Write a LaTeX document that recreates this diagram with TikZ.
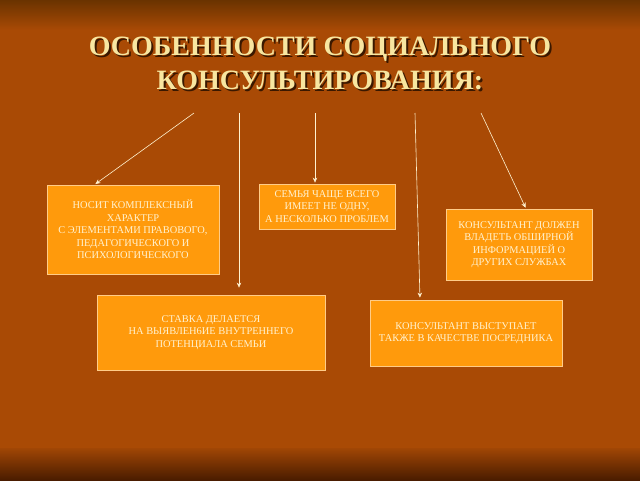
\documentclass[tikz,border=0pt]{standalone}
\usepackage{fontspec}
\setmainfont{Liberation Serif}
\usetikzlibrary{positioning, calc, arrows.meta}
\definecolor{bgmid}{HTML}{A94A05}
\definecolor{bgtop}{HTML}{6A3300}
\definecolor{bgbot}{HTML}{4A1C00}
\definecolor{boxfill}{HTML}{FF9A0C}
\definecolor{boxline}{HTML}{FFCC88}
\definecolor{boxtext}{HTML}{FFF2D0}
\definecolor{titlecol}{HTML}{F8E6A0}
\definecolor{shadowcol}{HTML}{3A1800}

\begin{document}
\begin{tikzpicture}[x=1pt, y=-1pt,
  fact/.style={rectangle, draw=boxline, line width=0.8pt, fill=boxfill, text=boxtext, align=center, inner sep=0pt, font=\fontsize{10.4}{12.5}\selectfont},
  link/.style={-{Stealth[length=5pt,width=4.5pt]}, draw=boxtext, line width=0.6pt},
  heading/.style={font=\fontsize{28}{33.5}\selectfont\bfseries, align=center}]
% background
\useasboundingbox (0,0) rectangle (640,480);
\fill[bgmid] (0,0) rectangle (640,480);
\shade[top color=bgtop, bottom color=bgmid] (0,0) rectangle (640,30);
\shade[top color=bgmid!95!black, bottom color=bgbot] (0,448) rectangle (640,480);
% title
\node (shadow) [heading, text=shadowcol] at (322,65.5) {ОСОБЕННОСТИ СОЦИАЛЬНОГО\\КОНСУЛЬТИРОВАНИЯ:};
\node (title) [heading, text=titlecol] at (320,63.5) {ОСОБЕННОСТИ СОЦИАЛЬНОГО\\КОНСУЛЬТИРОВАНИЯ:};
% boxes
\node (b1) [fact, minimum width=172pt, minimum height=89pt] at (133,229.5) {НОСИТ КОМПЛЕКСНЫЙ\\ХАРАКТЕР\\С ЭЛЕМЕНТАМИ ПРАВОВОГО,\\ПЕДАГОГИЧЕСКОГО И\\ПСИХОЛОГИЧЕСКОГО};
\node (b2) [fact, minimum width=136pt, minimum height=45pt] at (327,206.5) {СЕМЬЯ ЧАЩЕ ВСЕГО\\ИМЕЕТ НЕ ОДНУ,\\А НЕСКОЛЬКО ПРОБЛЕМ};
\node (b3) [fact, minimum width=146pt, minimum height=71pt] at (519,244.5) {КОНСУЛЬТАНТ ДОЛЖЕН\\ВЛАДЕТЬ ОБШИРНОЙ\\ИНФОРМАЦИЕЙ О\\ДРУГИХ СЛУЖБАХ};
\node (b4) [fact, minimum width=228pt, minimum height=75pt] at (211,332.5) {СТАВКА ДЕЛАЕТСЯ\\НА ВЫЯВЛЕН6ИЕ ВНУТРЕННЕГО\\ПОТЕНЦИАЛА СЕМЬИ};
\node (b5) [fact, minimum width=192pt, minimum height=66pt] at (466,333) {КОНСУЛЬТАНТ ВЫСТУПАЕТ\\ТАКЖЕ В КАЧЕСТВЕ ПОСРЕДНИКА};
% arrow starts under the title
\coordinate (s1) at (194,113);
\coordinate (s2) at (239,113);
\coordinate (s3) at (315,113);
\coordinate (s4) at (415,113);
\coordinate (s5) at (481,113);
\draw [link, shorten >=1pt] (s1) -- ([xshift=48pt]b1.north west);
\draw [link, shorten >=7pt] (s2) -- ([xshift=28pt]b4.north);
\draw [link, shorten >=1pt] (s3) -- ([xshift=-12pt]b2.north);
\draw [link, shorten >=2pt] (s4) -- ([xshift=-46pt]b5.north);
\draw [link, shorten >=1pt] (s5) -- ([xshift=7pt]b3.north);
\end{tikzpicture}
\end{document}
